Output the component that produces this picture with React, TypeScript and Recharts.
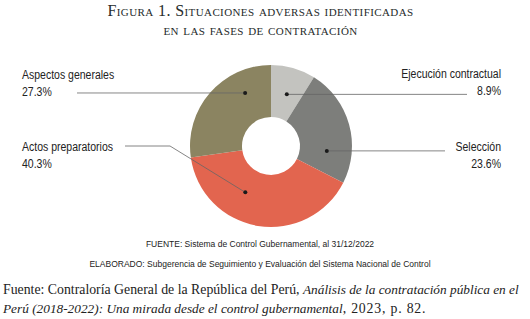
import { PieChart, Pie, Cell } from 'recharts';

const categories = ['Ejecución contractual', 'Selección', 'Actos preparatorios', 'Aspectos generales'];
const shares = [8.9, 23.6, 40.3, 27.3];
const colors = ['#c3c3bf', '#7d7e7b', '#e2654f', '#8b8461'];

const data = categories.map((name, i) => ({ name, value: shares[i] }));

// where each callout sits: dot (angle clockwise from 12 o'clock, radius), line end, text anchor
const callouts = [
  { angle: 17, r: 54, lineX: 467, elbowX: null, textX: 501, textY: 78, anchor: 'end' },
  { angle: 95, r: 56, lineX: 445, elbowX: null, textX: 501, textY: 151, anchor: 'end' },
  { angle: 209, r: 53, lineX: 125, elbowX: 170, elbowY: 146, textX: 22, textY: 151, anchor: 'start' },
  { angle: 334, r: 59, lineX: 77, elbowX: null, textX: 22, textY: 79, anchor: 'start' },
];

const labelFont = '"Liberation Sans", Arial, sans-serif';

const Squeezed = ({ x, y, anchor, children }: any) => (
  <text
    transform={`translate(${x},${y}) scale(0.79,1)`}
    textAnchor={anchor}
    fontFamily={labelFont}
    fontSize={13.3}
    fill="#222"
  >
    {children}
  </text>
);

const renderLabel = (props: any) => {
  const { cx, cy, index, name, value } = props;
  const c = callouts[index];
  const rad = (c.angle * Math.PI) / 180;
  const dx = cx + c.r * Math.sin(rad);
  const dy = cy - c.r * Math.cos(rad);
  const pts = c.elbowX != null
    ? `${dx},${dy} ${c.elbowX},${c.elbowY} ${c.lineX},${c.elbowY}`
    : `${dx},${dy} ${c.lineX},${dy}`;
  return (
    <g key={name}>
      <polyline points={pts} fill="none" stroke="#666" strokeWidth={0.8} />
      <circle cx={dx} cy={dy} r={2} fill="#1a1a1a" />
      <Squeezed x={c.textX} y={c.textY} anchor={c.anchor}>{name}</Squeezed>
      <Squeezed x={c.textX} y={c.textY + 17} anchor={c.anchor}>{value.toFixed(1)}%</Squeezed>
    </g>
  );
};

const App = () => {
  return (
    <div style={{ position: 'absolute', left: 0, top: 0, width: 530, height: 319, background: '#fff' }}>
      <div
        style={{
          position: 'absolute',
          left: 0,
          top: 1,
          width: 521,
          textAlign: 'center',
          fontFamily: '"Liberation Serif", serif',
          fontVariant: 'small-caps',
          fontSize: 16,
          lineHeight: '19px',
          color: '#262b2b',
          letterSpacing: 0.4,
        }}
      >
        Figura 1. Situaciones adversas identificadas
        <br />
        en las fases de contratación
      </div>
      <PieChart width={530} height={319} style={{ position: 'absolute', left: 0, top: 0 }}>
        <Pie
          data={data}
          dataKey="value"
          nameKey="name"
          cx={266}
          cy={141}
          innerRadius={29}
          outerRadius={81}
          startAngle={90}
          endAngle={-270}
          stroke="none"
          label={renderLabel}
          labelLine={false}
          isAnimationActive={false}
        >
          {data.map((d, i) => (
            <Cell key={d.name} fill={colors[i]} />
          ))}
        </Pie>
      </PieChart>
      <div
        style={{
          position: 'absolute',
          left: 0,
          top: 234,
          width: 520,
          textAlign: 'center',
          fontFamily: '"Liberation Sans", Arial, sans-serif',
          fontSize: 8.5,
          lineHeight: '20px',
          color: '#222',
        }}
      >
        FUENTE: Sistema de Control Gubernamental, al 31/12/2022
        <br />
        ELABORADO: Subgerencia de Seguimiento y Evaluación del Sistema Nacional de Control
      </div>
      <div
        style={{
          position: 'absolute',
          left: 3,
          top: 280,
          width: 527,
          fontFamily: '"Liberation Serif", serif',
          fontSize: 13.8,
          lineHeight: '19px',
          color: '#222',
          whiteSpace: 'nowrap',
        }}
      >
        Fuente: Contraloría General de la República del Perú,{' '}
        <i style={{ fontSize: 13.3 }}>Análisis de la contratación pública en el</i>
        <br />
        <i style={{ fontSize: 13.3 }}>Perú (2018-2022): Una mirada desde el control gubernamental</i>
        <span style={{ letterSpacing: 0.8 }}>, 2023, p. 82.</span>
      </div>
    </div>
  );
};

export default App;
